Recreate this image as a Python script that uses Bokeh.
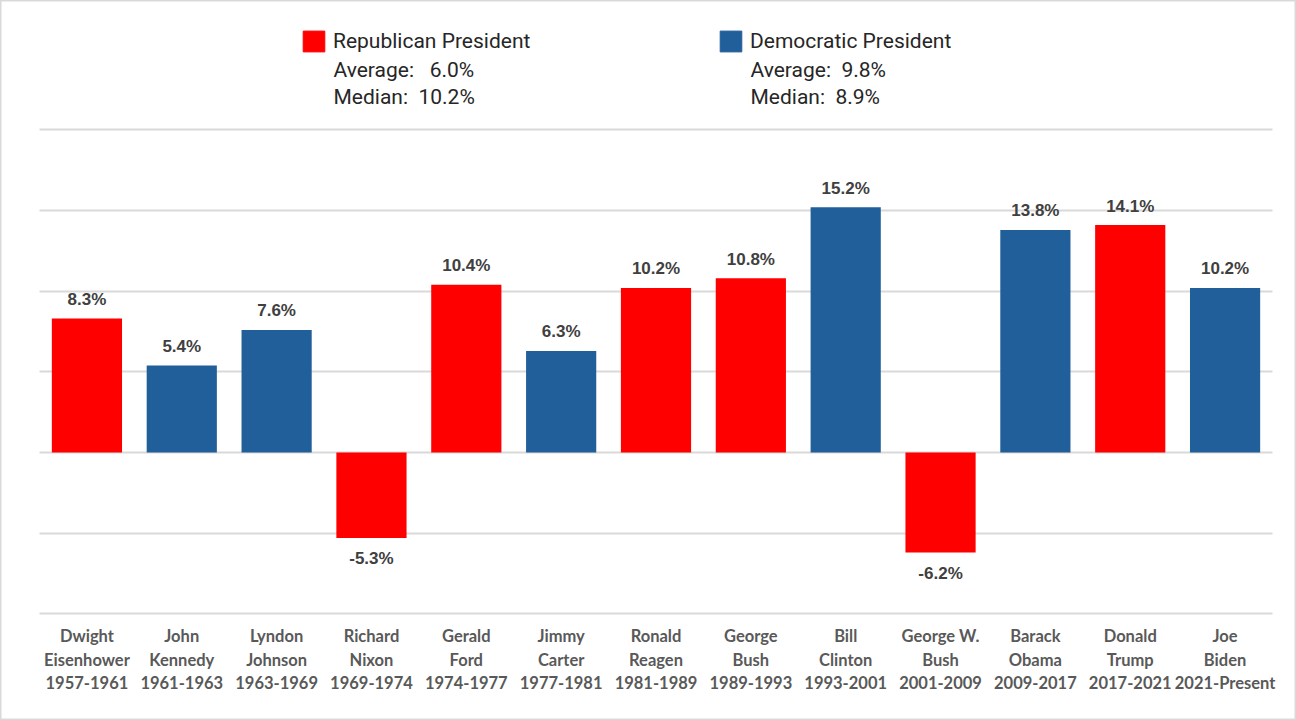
"""Market return by presidential term, drawn with Bokeh."""

import numpy as np
from bokeh.core.properties import value
from bokeh.embed import file_html
from bokeh.models import ColumnDataSource, FixedTicker, Legend, LegendItem, Range1d
from bokeh.plotting import figure
from bokeh.resources import INLINE

# Data.
presidents = [
    "Dwight Eisenhower", "John Kennedy", "Lyndon Johnson", "Richard Nixon",
    "Gerald Ford", "Jimmy Carter", "Ronald Reagen", "George Bush",
    "Bill Clinton", "George W. Bush", "Barack Obama", "Donald Trump", "Joe Biden",
]
terms = [
    "1957-1961", "1961-1963", "1963-1969", "1969-1974", "1974-1977", "1977-1981",
    "1981-1989", "1989-1993", "1993-2001", "2001-2009", "2009-2017", "2017-2021",
    "2021-Present",
]
parties = ["R", "D", "D", "R", "R", "D", "R", "R", "D", "R", "D", "R", "D"]
returns = [8.3, 5.4, 7.6, -5.3, 10.4, 6.3, 10.2, 10.8, 15.2, -6.2, 13.8, 14.1, 10.2]
grid_ticks = [-10, -5, 0, 5, 10, 15, 20]

RED = "#FF0000"
BLUE = "#215F9A"
party_color = {"R": RED, "D": BLUE}

labels = []
for name, term in zip(presidents, terms):
    first, last = name.rsplit(" ", 1)
    labels.append(f"{first}\n{last}\n{term}")

n = len(presidents)
source = ColumnDataSource(dict(
    x=np.arange(n) + 0.5,
    name=presidents,
    ret=returns,
    color=[party_color[p] for p in parties],
    txt=[f"{v:.1f}%" for v in returns],
    off=[-19 if v >= 0 else 21 for v in returns],
    label=labels,
    label_y=[-10.78] * n,
))

# Page geometry (px): plot area 39..1272 wide, zero line at 452, 5% = 80.65px.
W, H = 1296, 720
LEFT_PX, RIGHT_PX = 39, 1272
SLOT = (RIGHT_PX - LEFT_PX) / n
PX_PER_UNIT = 16.13
ZERO_PX = 452

p = figure(
    x_range=Range1d(-LEFT_PX / SLOT, n + (W - RIGHT_PX) / SLOT),
    y_range=Range1d(-(H - ZERO_PX) / PX_PER_UNIT, ZERO_PX / PX_PER_UNIT),
    width=W,
    height=H,
    output_backend="svg",
    toolbar_location=None,
    tools="",
    x_axis_location=None,
    y_axis_location=None,
    outline_line_color="#d9d9d9",
    outline_line_width=2,
    background_fill_color="white",
    border_fill_color="white",
    min_border=0,
)
p.xgrid.visible = False
p.ygrid.ticker = FixedTicker(ticks=grid_ticks)
p.ygrid.cross_bounds = (0, n)
p.ygrid.grid_line_color = "#d9d9d9"
p.ygrid.grid_line_width = 2

p.vbar(x="x", top="ret", bottom=0, width=0.74, color="color",
       line_color=None, source=source)

p.text(x="x", y="ret", text="txt", y_offset="off", source=source,
       text_align="center", text_baseline="middle",
       text_font=value("Liberation Sans"), text_font_style="bold",
       text_font_size="17px", text_color="#404040")

p.text(x="x", y="label_y", text="label", source=source,
       text_align="center", text_baseline="top",
       text_font=value("Lato"), text_font_style="bold",
       text_font_size="16.5px", text_color="#595959", text_line_height=1.16)

# Legend boxes with party statistics underneath.
ret_arr = np.array(returns)
party_arr = np.array(parties)
nb = "\u00a0"
legend_specs = [
    ("R", "Republican President", RED, 300, [f"Average:{nb * 3}", f"Median:{nb * 2}"]),
    ("D", "Democratic President", BLUE, 717, [f"Average:{nb * 2}", f"Median:{nb * 2}"]),
]
for key, title, color, left, prefixes in legend_specs:
    vals = ret_arr[party_arr == key]
    stats = [np.mean(vals), np.median(vals)]
    r = p.vbar(x=[0], top=[0], width=0, color=color, visible=False)
    legend = Legend(
        items=[LegendItem(label=title, renderers=[r])],
        location=(left, 666),
        glyph_width=27,
        glyph_height=26,
        label_standoff=6,
        label_text_font="Roboto",
        label_text_font_size="21px",
        label_text_color="#262626",
        padding=0,
        margin=0,
        border_line_color=None,
        background_fill_alpha=0,
    )
    p.add_layout(legend, "center")
    stat_src = ColumnDataSource(dict(
        x=[(left + 33 - LEFT_PX) / SLOT] * 2,
        y=[(ZERO_PX - 69) / PX_PER_UNIT, (ZERO_PX - 96) / PX_PER_UNIT],
        t=[f"{pre}{s:.1f}%" for pre, s in zip(prefixes, stats)],
    ))
    p.text(x="x", y="y", text="t", source=stat_src, text_align="left",
           text_baseline="middle", text_font=value("Roboto"),
           text_font_size="21px", text_color="#262626")

open("out.html", "w").write(file_html(p, INLINE))
